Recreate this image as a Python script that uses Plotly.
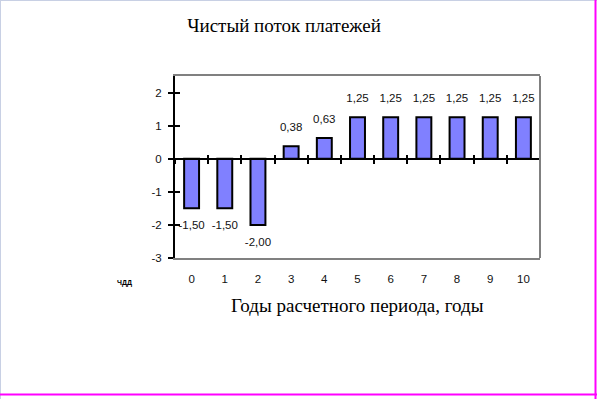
import plotly.graph_objects as go

years = [0, 1, 2, 3, 4, 5, 6, 7, 8, 9, 10]
net_flow = [-1.50, -1.50, -2.00, 0.38, 0.63, 1.25, 1.25, 1.25, 1.25, 1.25, 1.25]
y_ticks = [-3, -2, -1, 0, 1, 2]
title_text = "Чистый поток платежей"
x_title = "Годы расчетного периода, годы"

labels = [f"{v:.2f}".replace(".", ",") for v in net_flow]
label_pos = ["top center" if v >= 0 else "bottom center" for v in net_flow]

fig = go.Figure()
fig.add_trace(go.Bar(
    x=years, y=net_flow,
    marker=dict(color="#8080FF", line=dict(color="black", width=2)),
    width=0.45, showlegend=False, hoverinfo="x+y",
))
fig.add_trace(go.Scatter(
    x=years, y=net_flow, mode="markers+text", text=labels, textposition=label_pos,
    marker=dict(size=18, color="rgba(0,0,0,0)"),
    textfont=dict(family="Liberation Sans, Arial", size=11.5, color="#111"),
    cliponaxis=False, showlegend=False, hoverinfo="skip",
))

W, H = 597, 399
L, R, T, B = 175, 540, 76, 258

fig.update_layout(
    width=W, height=H,
    margin=dict(l=L, r=W - R, t=T, b=H - B),
    paper_bgcolor="white", plot_bgcolor="white",
    title=dict(text=title_text, x=284 / W, xanchor="center", y=1 - 25 / H, yanchor="middle",
               font=dict(family="Liberation Serif, Times New Roman", size=19, color="black")),
    xaxis=dict(range=[-0.5, 10.5], tickmode="array", tickvals=years, ticktext=[str(y) for y in years],
               showgrid=False, zeroline=False, showline=True, linecolor="#808080", linewidth=2,
               mirror=True, ticks="outside", ticklen=9, tickcolor="rgba(0,0,0,0)",
               tickfont=dict(family="Liberation Sans, Arial", size=11.5, color="#111")),
    xaxis2=dict(range=[-0.5, 10.5], overlaying="x", anchor="free", position=3 / 5.5,
                tickmode="linear", tick0=0.5, dtick=1, showticklabels=False, showgrid=False,
                zeroline=False, showline=True, linecolor="black", linewidth=2,
                ticks="outside", ticklen=4, tickwidth=2, tickcolor="black"),
    xaxis3=dict(range=[-0.5, 10.5], overlaying="x", anchor="free", position=3 / 5.5,
                tickmode="linear", tick0=0.5, dtick=1, showticklabels=False, showgrid=False,
                zeroline=False, showline=False,
                ticks="inside", ticklen=4, tickwidth=2, tickcolor="black"),
    yaxis=dict(range=[-3, 2.5], tickmode="array", tickvals=y_ticks,
               ticktext=[str(t) for t in y_ticks],
               showgrid=False, zeroline=False,
               showline=True, linecolor="black", linewidth=2, mirror=False,
               ticks="outside", ticklen=5, tickwidth=2, tickcolor="black",
               ticklabelstandoff=4,
               tickfont=dict(family="Liberation Sans, Arial", size=11.5, color="#111")),
    yaxis2=dict(range=[-3, 2.5], overlaying="y", tickmode="array", tickvals=y_ticks,
                showticklabels=False, showgrid=False, zeroline=False, showline=False,
                ticks="inside", ticklen=5, tickwidth=2, tickcolor="black", side="left"),
)

# dummy traces to activate overlay axes
fig.add_trace(go.Scatter(x=[None], y=[None], xaxis="x2", yaxis="y", showlegend=False, hoverinfo="skip"))
fig.add_trace(go.Scatter(x=[None], y=[None], xaxis="x3", yaxis="y2", showlegend=False, hoverinfo="skip"))

# right gray frame edge
fig.add_shape(type="line", xref="paper", yref="paper", x0=1, x1=1, y0=0, y1=1,
              line=dict(color="#808080", width=2))

# axis title
fig.add_annotation(text=x_title, xref="paper", yref="paper", x=0.5, y=-(305 - B) / (B - T),
                   xanchor="center", yanchor="middle", showarrow=False,
                   font=dict(family="Liberation Serif, Times New Roman", size=19, color="black"))
# small squashed glyph at left
fig.add_annotation(text="<b>ЧДД</b>", xref="paper", yref="paper", x=(124 - L) / (R - L),
                   y=-(283 - B) / (B - T), xanchor="center", yanchor="middle", showarrow=False,
                   font=dict(family="Liberation Sans, Arial", size=7, color="black"))

# page border
px = lambda x: (x - L) / (R - L)
py = lambda y: (B - y) / (B - T)
fig.add_shape(type="line", xref="paper", yref="paper", x0=px(0.5), x1=px(0.5), y0=py(0), y1=py(399),
              line=dict(color="#C8D0E4", width=1))
fig.add_shape(type="line", xref="paper", yref="paper", x0=px(0), x1=px(597), y0=py(0.5), y1=py(0.5),
              line=dict(color="#C8D0E4", width=1))
fig.add_shape(type="line", xref="paper", yref="paper", x0=px(595.5), x1=px(595.5), y0=py(0), y1=py(399),
              line=dict(color="#FF00FF", width=2))
fig.add_shape(type="line", xref="paper", yref="paper", x0=px(0), x1=px(597), y0=py(394.5), y1=py(394.5),
              line=dict(color="#FF00FF", width=2))

fig.write_html("out.html", config={"displayModeBar": False},
               post_script="document.body.style.margin='0';document.body.style.overflow='hidden';")
